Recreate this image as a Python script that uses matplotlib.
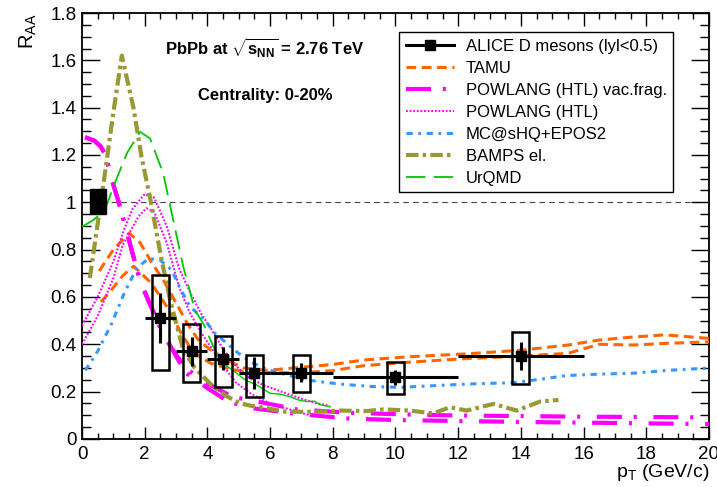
import numpy as np
import matplotlib
matplotlib.use("Agg")
import matplotlib.pyplot as plt
from matplotlib.lines import Line2D
from matplotlib.patches import Rectangle
from matplotlib.ticker import MultipleLocator, FormatStrFormatter

plt.rcParams['font.family'] = ['Liberation Sans', 'DejaVu Sans']
plt.rcParams['mathtext.fontset'] = 'custom'
plt.rcParams['mathtext.rm'] = 'Liberation Sans'
plt.rcParams['mathtext.bf'] = 'Liberation Sans:bold'
plt.rcParams['lines.scale_dashes'] = False

# ---------- ALICE D mesons, 0-20% ----------
pt = [2.5, 3.5, 4.5, 5.5, 7.0, 10.0, 14.0]
pt_lo = [2, 3, 4, 5, 6, 8, 12]
pt_hi = [3, 4, 5, 6, 8, 12, 16]
raa = [0.51, 0.37, 0.34, 0.28, 0.28, 0.26, 0.35]
stat = [0.105, 0.06, 0.05, 0.067, 0.04, 0.03, 0.058]
syst_lo = [0.29, 0.24, 0.218, 0.179, 0.197, 0.19, 0.231]
syst_hi = [0.694, 0.485, 0.435, 0.355, 0.355, 0.324, 0.452]
norm_lo, norm_hi = 0.95, 1.055

# ---------- model curves ----------
tamu_hi_x = [0.55, 1.0, 1.5, 1.85, 2.2, 2.6, 3.0, 3.35, 3.7, 4.1, 4.6, 5.15, 5.9, 7.0, 8.0, 9.0, 10.5,
             12.3, 14.0, 15.5, 16.5, 17.5, 18.6, 20.0]
tamu_hi_y = [0.71, 0.80, 0.87, 0.83, 0.75, 0.67, 0.575, 0.49, 0.42, 0.376, 0.334, 0.30, 0.29, 0.303,
             0.315, 0.334, 0.348, 0.36, 0.375, 0.397, 0.418, 0.43, 0.44, 0.425]
tamu_lo_x = [0.6, 0.85, 1.3, 1.65, 2.2, 2.7, 3.15, 3.55, 4.1, 4.6, 5.15, 6.0, 7.0, 8.0, 9.0, 10.5,
             12.3, 14.0, 15.5, 16.5, 17.6, 18.6, 20.0]
tamu_lo_y = [0.58, 0.615, 0.69, 0.73, 0.66, 0.56, 0.45, 0.365, 0.32, 0.30, 0.284, 0.28, 0.28, 0.289,
             0.31, 0.325, 0.34, 0.35, 0.362, 0.40, 0.397, 0.404, 0.41]

vac_hi_x = [0.1, 0.4, 0.6, 0.75, 0.95, 1.15, 1.4, 1.6, 1.85, 2.1, 2.5, 2.85, 3.3, 4.0, 4.8, 5.6,
            6.85, 8.5, 10.2, 12.0, 14.0, 16.0, 18.0, 20.0]
vac_hi_y = [1.275, 1.26, 1.235, 1.2, 1.095, 1.01, 0.89, 0.79, 0.67, 0.59, 0.47, 0.385, 0.30, 0.235,
            0.178, 0.158, 0.125, 0.111, 0.104, 0.099, 0.097, 0.094, 0.093, 0.091]
vac_lo_x = [0.1, 0.4, 0.6, 0.75, 0.95, 1.15, 1.4, 1.6, 1.85, 2.1, 2.5, 2.85, 3.3, 4.0, 4.66, 5.42,
            6.7, 8.4, 10.0, 12.0, 14.0, 16.0, 18.0, 20.0]
vac_lo_y = [1.275, 1.26, 1.235, 1.2, 1.095, 1.01, 0.89, 0.79, 0.67, 0.59, 0.47, 0.385, 0.28, 0.215,
            0.158, 0.13, 0.109, 0.087, 0.08, 0.076, 0.072, 0.069, 0.066, 0.063]

htl_hi_x = [0.0, 0.5, 1.0, 1.3, 1.6, 2.0, 2.3, 2.7, 3.1, 3.45, 3.8, 4.1, 4.5, 4.9, 5.36, 5.78, 6.5,
            7.0, 7.5, 7.9]
htl_hi_y = [0.48, 0.60, 0.75, 0.87, 0.97, 1.035, 1.02, 0.90, 0.72, 0.62, 0.53, 0.47, 0.38, 0.31,
            0.256, 0.228, 0.193, 0.17, 0.15, 0.14]
htl_lo_x = [0.0, 0.5, 1.0, 1.3, 1.8, 2.05, 2.3, 2.7, 3.1, 3.45, 3.8, 4.1, 4.5, 4.9, 5.4, 6.0, 6.5,
            7.0, 7.5]
htl_lo_y = [0.40, 0.52, 0.68, 0.82, 0.94, 0.975, 0.96, 0.83, 0.64, 0.53, 0.45, 0.39, 0.31, 0.24,
            0.19, 0.15, 0.13, 0.11, 0.094]

mcshq_x = [0.1, 0.26, 0.52, 0.95, 1.32, 1.74, 2.12, 2.49, 2.86, 3.13, 3.44, 3.9, 4.24, 4.62, 4.99,
           5.36, 5.89, 6.32, 7.17, 8.23, 9.2, 10.14, 11.2, 12.27, 13.0, 13.76, 14.6, 15.46, 16.5,
           17.59, 18.7, 20.0]
mcshq_y = [0.29, 0.32, 0.376, 0.489, 0.608, 0.721, 0.763, 0.756, 0.714, 0.637, 0.56, 0.505, 0.447,
           0.404, 0.362, 0.327, 0.294, 0.278, 0.249, 0.232, 0.222, 0.218, 0.225, 0.232, 0.235,
           0.238, 0.252, 0.268, 0.274, 0.278, 0.29, 0.30]

bamps_x = [0.25, 0.5, 0.75, 1.0, 1.27, 1.64, 1.9, 2.17, 2.54, 2.81, 3.23, 3.6, 3.87, 4.24, 4.62,
           5.04, 5.4, 5.89, 6.5, 7.49, 8.23, 9.08, 9.61, 10.46, 11.2, 11.74, 12.27, 13.12, 13.87,
           14.61, 15.2]
bamps_y = [0.68, 0.91, 1.14, 1.38, 1.62, 1.40, 1.19, 1.02, 0.756, 0.587, 0.376, 0.30, 0.263, 0.214,
           0.18, 0.151, 0.14, 0.13, 0.115, 0.115, 0.12, 0.118, 0.125, 0.12, 0.108, 0.134, 0.12,
           0.148, 0.12, 0.158, 0.165]

urqmd_x = [0.0, 0.36, 0.73, 1.0, 1.43, 1.85, 2.17, 2.59, 2.91, 3.23, 3.6, 3.9, 4.19, 4.5, 4.93,
           5.2, 5.57, 6.0, 6.3, 6.63, 6.9, 7.17, 7.4, 7.6, 7.91]
urqmd_y = [0.897, 0.925, 0.967, 1.066, 1.207, 1.298, 1.27, 1.122, 0.925, 0.728, 0.545, 0.48, 0.39,
           0.32, 0.278, 0.25, 0.228, 0.193, 0.19, 0.179, 0.165, 0.158, 0.16, 0.145, 0.136]

C_TAMU = '#ff6600'
C_POW = '#ff00ff'
C_MC = '#3399ff'
C_BAMPS = '#999933'
C_URQMD = '#00c800'

ls_tamu = (0, (7, 4))
ls_vac = (0, (18, 8.5, 2.2, 12))
ls_htl = (0, (1.3, 1.3))
ls_mc = (0, (4.5, 4, 2, 4))
ls_bamps = (0, (9, 3, 2.5, 3))
ls_urqmd = (0, (14, 6))

fig = plt.figure(figsize=(7.17, 4.87), dpi=100)
ax = fig.add_axes([0.1144, 0.0986, 0.8744, 0.8747])

# unity reference
ax.axhline(1.0, color='#444444', lw=0.8, ls=(0, (4, 3)), zorder=1)

# theory curves
ax.plot(tamu_hi_x, tamu_hi_y, color=C_TAMU, lw=2.2, ls=ls_tamu, zorder=3)
ax.plot(tamu_lo_x, tamu_lo_y, color=C_TAMU, lw=2.2, ls=ls_tamu, zorder=3)
ax.plot(vac_hi_x, vac_hi_y, color=C_POW, lw=3.0, ls=ls_vac, zorder=3)
ax.plot(vac_lo_x, vac_lo_y, color=C_POW, lw=3.0, ls=ls_vac, zorder=3)
ax.plot(htl_hi_x, htl_hi_y, color=C_POW, lw=1.5, ls=ls_htl, zorder=3)
ax.plot(htl_lo_x, htl_lo_y, color=C_POW, lw=1.5, ls=ls_htl, zorder=3)
ax.plot(mcshq_x, mcshq_y, color=C_MC, lw=2.2, ls=ls_mc, zorder=3)
ax.plot(bamps_x, bamps_y, color=C_BAMPS, lw=3.0, ls=ls_bamps, zorder=3)

ux = np.array(urqmd_x)
uy = np.array(urqmd_y)
low = ux <= 4.5
ax.plot(ux[low], uy[low], color=C_URQMD, lw=1.3, ls=ls_urqmd, zorder=3)
ax.plot(ux[ux >= 4.5], uy[ux >= 4.5], color=C_URQMD, lw=1.0, zorder=3)

# normalisation uncertainty
ax.add_patch(Rectangle((0.25, norm_lo), 0.5, norm_hi - norm_lo, facecolor='black',
                       edgecolor='black', zorder=4))

# systematic boxes
for x, lo, hi in zip(pt, syst_lo, syst_hi):
    ax.add_patch(Rectangle((x - 0.27, lo), 0.54, hi - lo, facecolor='none',
                           edgecolor='black', lw=1.8, zorder=5))

xerr = [np.array(pt) - np.array(pt_lo), np.array(pt_hi) - np.array(pt)]
ax.errorbar(pt, raa, xerr=xerr, yerr=stat, fmt='s', color='black', ms=7, lw=2.2,
            capsize=0, zorder=6)

ax.set_xlim(0, 20)
ax.set_ylim(0, 1.8)

ax.xaxis.set_major_locator(MultipleLocator(2))
ax.xaxis.set_minor_locator(MultipleLocator(0.5))
ax.yaxis.set_major_locator(MultipleLocator(0.2))
ax.yaxis.set_minor_locator(MultipleLocator(0.05))
ax.yaxis.set_major_formatter(FormatStrFormatter('%g'))
ax.tick_params(which='both', direction='in', top=True, right=True, width=1.0,
               labelsize=13.5, colors='black')
ax.tick_params(axis='x', which='major', length=9, pad=5)
ax.tick_params(axis='x', which='minor', length=4.5)
ax.tick_params(axis='y', which='major', length=13, pad=4)
ax.tick_params(axis='y', which='minor', length=6.5)
for s in ax.spines.values():
    s.set_linewidth(1.3)

ax.text(1.0, -0.089, r'p$_{\mathrm{T}}$ (GeV/c)', transform=ax.transAxes, ha='right',
        va='baseline', fontsize=14)
ax.text(-0.085, 1.0, r'R$_{\mathrm{AA}}$', transform=ax.transAxes, ha='center', va='top',
        rotation=90, fontsize=14.5)

ax.text(5.84, 1.652, r'PbPb at $\sqrt{\mathbf{s}_{\mathbf{NN}}}$ = 2.76 TeV', ha='center',
        va='center', fontsize=12, fontweight='bold')
ax.text(5.84, 1.453, 'Centrality: 0-20%', ha='center', va='center', fontsize=12,
        fontweight='bold')

handles = [
    Line2D([], [], color='black', lw=2.2, marker='s', ms=7),
    Line2D([], [], color=C_TAMU, lw=2.2, ls=ls_tamu),
    Line2D([], [], color=C_POW, lw=3.0, ls=ls_vac),
    Line2D([], [], color=C_POW, lw=1.5, ls=ls_htl),
    Line2D([], [], color=C_MC, lw=2.2, ls=ls_mc),
    Line2D([], [], color=C_BAMPS, lw=3.0, ls=ls_bamps),
    Line2D([], [], color=C_URQMD, lw=1.3, ls=ls_urqmd),
]
labels = ['ALICE D mesons (lyl<0.5)', 'TAMU', 'POWLANG (HTL) vac.frag.', 'POWLANG (HTL)',
          'MC@sHQ+EPOS2', 'BAMPS el.', 'UrQMD']
leg = ax.legend(handles, labels, loc='upper left', bbox_to_anchor=(0.5056, 0.9554),
                borderaxespad=0, fontsize=12, frameon=True, fancybox=False,
                edgecolor='black', framealpha=1, handlelength=2.9, handletextpad=0.7,
                labelspacing=0.42, borderpad=0.4)
leg.get_frame().set_linewidth(1.0)

fig.savefig('out.png', dpi=100)
